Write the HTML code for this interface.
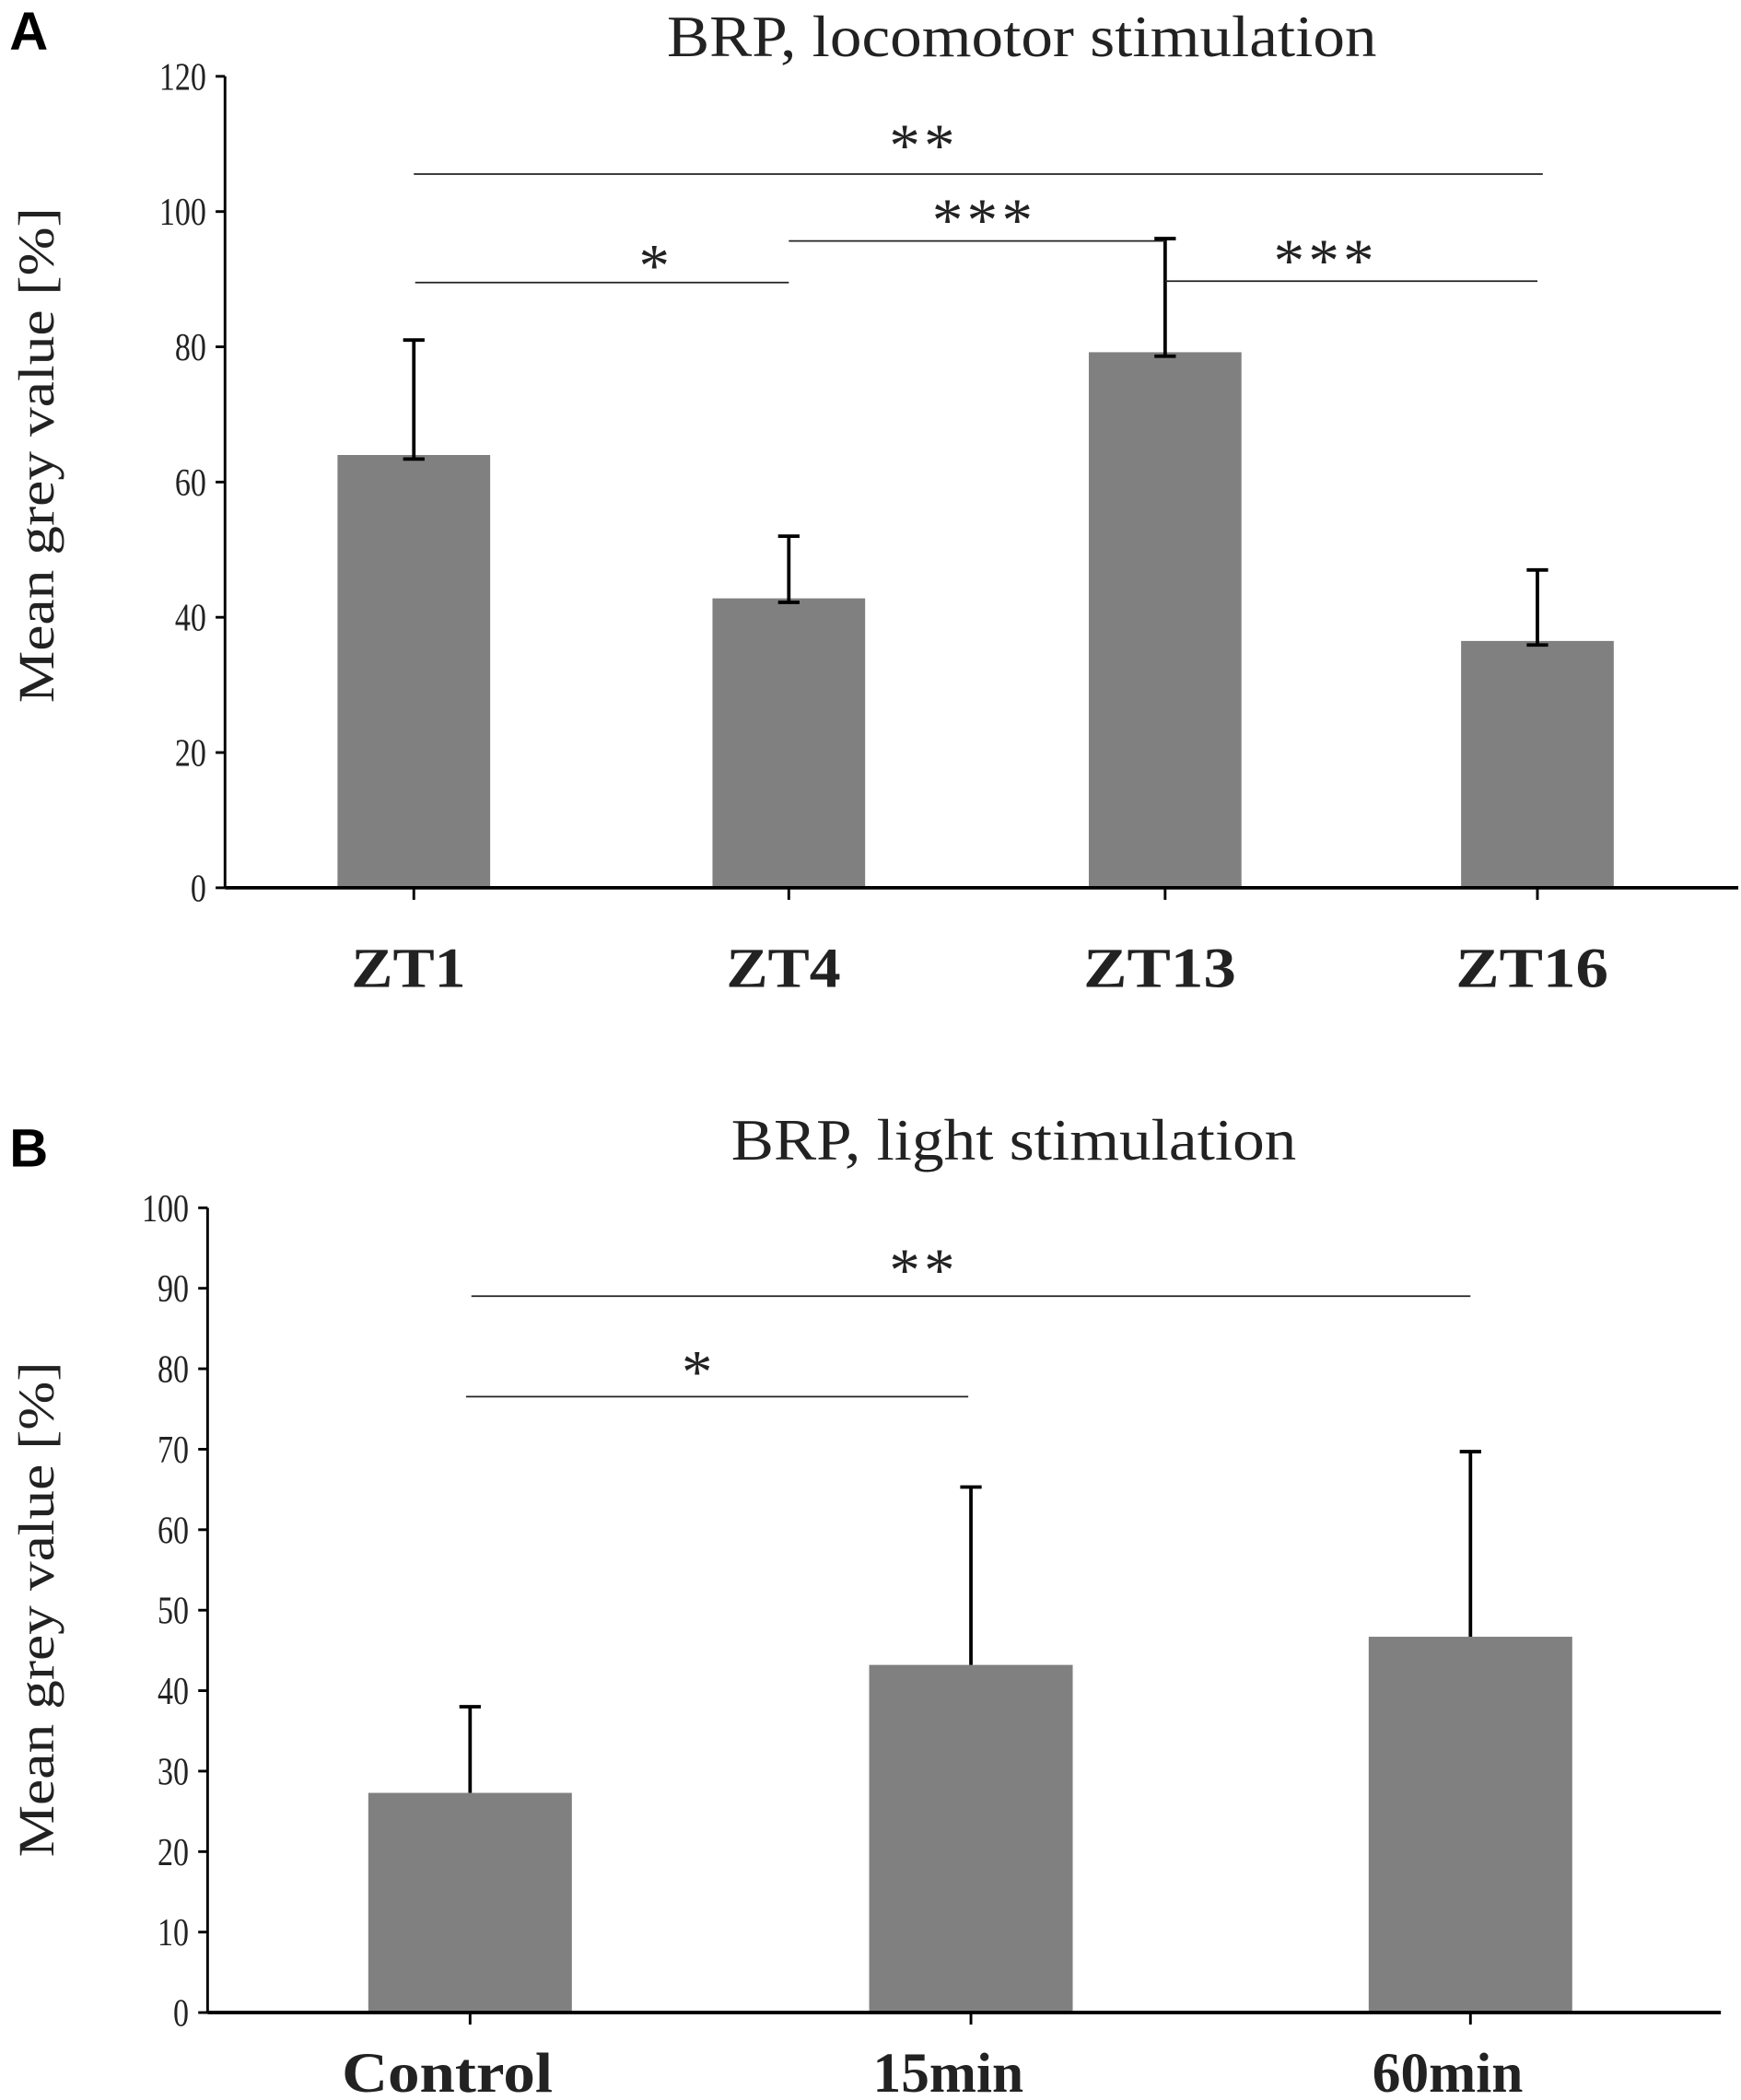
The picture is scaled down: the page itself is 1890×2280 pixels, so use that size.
<!DOCTYPE html>
<html><head><meta charset="utf-8"><style>html,body{margin:0;padding:0;background:#fff}svg{display:block}</style></head>
<body>
<svg id="fig" width="1890" height="2280" viewBox="0 0 1300 1568.3" xmlns="http://www.w3.org/2000/svg" font-family="'Liberation Serif', serif"></svg>
<script>
// Panel A data
const catsA = ["ZT1","ZT4","ZT13","ZT16"];
const valsA = [64, 42.8, 79.2, 36.5];
const errA = [81, 52, 96, 47];
const ticksA = [0,20,40,60,80,100,120];
// Panel B data
const catsB = ["Control","15min","60min"];
const valsB = [27.3, 43.2, 46.7];
const errB = [38, 65.3, 69.7];
const ticksB = [0,10,20,30,40,50,60,70,80,90,100];

const NS = "http://www.w3.org/2000/svg";
const svg = document.getElementById('fig');
function mk(tag, attrs, parent, text){
  const e = document.createElementNS(NS, tag);
  for (const k in attrs) e.setAttribute(k, attrs[k]);
  if (text !== undefined) e.textContent = text;
  (parent||svg).appendChild(e);
  return e;
}

function panel(cfg){
  const g = mk('g', {});
  
  
  const y = v => cfg.y0 - (v - 0) / cfg.ymax * (cfg.y0 - cfg.ytop);
  const x = i => cfg.xs[i];
  const L = mk('text', {x:7, y:cfg.letterY, 'font-family':"'Liberation Sans', sans-serif", 'font-weight':'bold', 'font-size':40}, g, cfg.letter);
  
  
  const t = mk('text', {x:cfg.titleX, y:cfg.titleY, 'font-size':44, textLength:cfg.titleW, lengthAdjust:'spacingAndGlyphs', fill:'#222'}, g, cfg.title);
  
  
  const yl = mk('text', {x:0, y:0, 'font-size':38, 'text-anchor':'middle', textLength:cfg.ylabW, lengthAdjust:'spacingAndGlyphs', fill:'#222', transform:`translate(${cfg.ylabX},${cfg.ylabY}) rotate(-90)`}, g, 'Mean grey value [%]');
  
  
  cfg.vals.forEach((v,i)=>{
    const b = mk('rect', {x:x(i)-cfg.bw/2, y:y(v), width:cfg.bw, height:cfg.y0-y(v), fill:'#808080'}, g);
    
    
    const eb = mk('g', {stroke:'#000', 'stroke-width':2.6}, g);
    
    
    mk('line', {x1:x(i), x2:x(i), y1:y(cfg.errs[i]), y2:y(v)+ (cfg.lowCap?3:0)}, eb);
    mk('line', {x1:x(i)-8, x2:x(i)+8, y1:y(cfg.errs[i]), y2:y(cfg.errs[i])}, eb);
    if (cfg.lowCap) mk('line', {x1:x(i)-8, x2:x(i)+8, y1:y(v)+3, y2:y(v)+3}, eb);
  });
  const ax = mk('g', {stroke:'#000', 'stroke-width':2}, g);
  
  
  mk('line', {x1:cfg.ax, x2:cfg.ax, y1:cfg.ytop, y2:cfg.y0}, ax);
  mk('line', {x1:cfg.ax, x2:cfg.axEnd, y1:cfg.y0, y2:cfg.y0, 'stroke-width':2.6}, ax);
  cfg.ticks.forEach(v=>{
    mk('line', {x1:cfg.ax-7, x2:cfg.ax, y1:y(v), y2:y(v)}, ax);
    const tl = mk('text', {x:cfg.ax-14, y:y(v)+10, 'font-size':29, 'text-anchor':'end', stroke:'none', fill:'#222', textLength:String(v).length*11.7, lengthAdjust:'spacingAndGlyphs'}, g, String(v));
    
    
  });
  cfg.cats.forEach((c,i)=>{
    mk('line', {x1:x(i), x2:x(i), y1:cfg.y0, y2:cfg.y0+9}, ax);
    const xl = mk('text', {x:x(i)+cfg.xlabDx, y:cfg.xlabY, 'font-size':42, 'font-weight':'bold', 'text-anchor':'middle', fill:'#222', textLength:c.length*cfg.xlabCW, lengthAdjust:'spacingAndGlyphs'}, g, c);
    
    
  });
  cfg.sig.forEach(s=>{
    const sg = mk('g', {}, g);
    
    
    mk('line', {x1:s[0], x2:s[1], y1:s[2], y2:s[2], stroke:'#222', 'stroke-width':1.2}, sg);
    mk('text', {x:s[3], y:s[4], 'font-size':46, 'letter-spacing':3, 'text-anchor':'middle', fill:'#222'}, sg, s[5]);
  });
}

panel({name:'panel-a', letter:'A', letterY:37, title:'BRP, locomotor stimulation', titleX:498, titleY:42, titleW:530,
  ylabX:40, ylabY:340, ylabW:370, ax:168, axEnd:1298, y0:663, ytop:57, ymax:120,
  xs:[309,589,870,1148], bw:114, vals:valsA, errs:errA, cats:catsA, ticks:ticksA, lowCap:true,
  xlabY:737, xlabDx:-4, xlabCW:28.5,
  sig:[[309,1152,130,690,124,'**'],[310,589,211,490,214,'*'],[589,870,180,735,180,'***'],[870,1148,210,990,210,'***']]});

panel({name:'panel-b', letter:'B', letterY:871, title:'BRP, light stimulation', titleX:546, titleY:866, titleW:422,
  ylabX:40, ylabY:1202, ylabW:370, ax:155, axEnd:1285, y0:1503, ytop:902, ymax:100,
  xs:[351,725,1098], bw:152, vals:valsB, errs:errB, cats:catsB, ticks:ticksB, lowCap:false,
  xlabY:1562, xlabDx:-17, xlabCW:22.5,
  sig:[[352,1098,968,690,964,'**'],[348,723,1043,522,1040,'*']]});
</script>
</body></html>
